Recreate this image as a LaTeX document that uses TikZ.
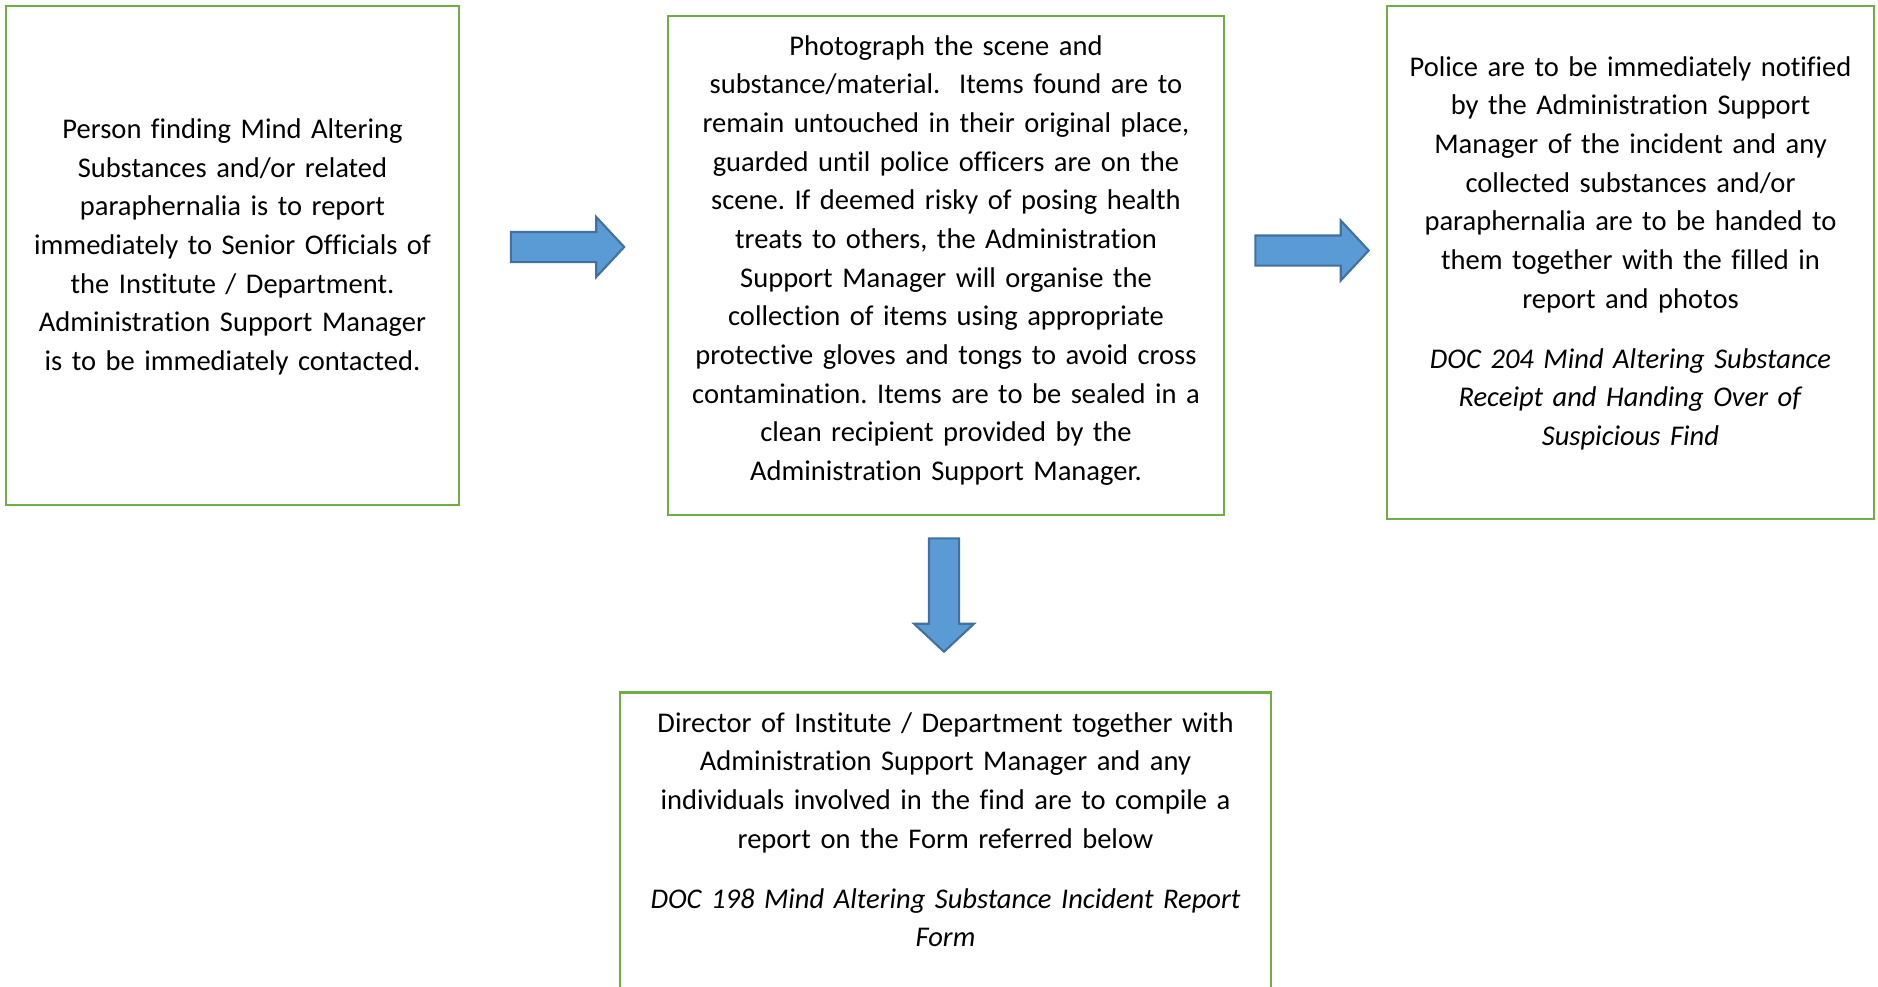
\documentclass[tikz,border=0pt]{standalone}
\usepackage{fontspec}
\setmainfont{Carlito}[Ligatures=NoCommon]
\usetikzlibrary{shapes.arrows}
\definecolor{boxgreen}{HTML}{70AD47}
\definecolor{arrowblue}{HTML}{5B9BD5}
\definecolor{arrowedge}{HTML}{41719C}
\newcommand{\gapbelow}[1]{\rule[-#1]{0pt}{0pt}}
\frenchspacing

\begin{document}
\begin{tikzpicture}
 [x=0.375pt,y=-0.375pt,
  box/.style={draw=boxgreen,line width=1pt,inner xsep=0pt,inner ysep=0pt,align=center,
    font=\fontsize{10.7pt}{14.5pt}\selectfont},
  blockarrow/.style={single arrow,draw=arrowedge,fill=arrowblue,line width=0.8pt,
    inner xsep=0pt,inner ysep=5.25pt,minimum height=42.5pt,minimum width=21.75pt,
    single arrow head extend=5.6pt,single arrow tip angle=94}]
  \useasboundingbox (0,0) rectangle (1878,986);
  \clip (0,0) rectangle (1878,986);

  \node (find)[box,text width=169.9pt,minimum height=187.1pt] at (232.5,255.5)
    {Person finding Mind Altering\\
     Substances and/or related\\
     paraphernalia is to report\\
     immediately to Senior Officials of\\
     the Institute / Department.\\
     Administration Support Manager\\
     is to be immediately contacted.\gapbelow{8.3pt}};
  \node (scene)[box,text width=208.5pt,minimum height=187.1pt] at (946,265.5)
    {Photograph the scene and\\
     substance/material.\ \ Items found are to\\
     remain untouched in their original place,\\
     guarded until police officers are on the\\
     scene. If deemed risky of posing health\\
     treats to others, the Administration\\
     Support Manager will organise the\\
     collection of items using appropriate\\
     protective gloves and tongs to avoid cross\\
     contamination. Items are to be sealed in a\\
     clean recipient provided by the\\
     Administration Support Manager.\gapbelow{5.8pt}};
  \node (police)[box,text width=182.6pt,minimum height=192.4pt] at (1630.5,262.5)
    {Police are to be immediately notified\\
     by the Administration Support\\
     Manager of the incident and any\\
     collected substances and/or\\
     paraphernalia are to be handed to\\
     them together with the filled in\\
     report and photos\\[8pt]
     \textit{DOC 204 Mind Altering Substance}\\
     \textit{Receipt and Handing Over of}\\
     \textit{Suspicious Find}\gapbelow{8.8pt}};
  \node (report)[box,text width=244.1pt,inner ysep=7.5pt,anchor=north] at (945.5,691)
    {Director of Institute / Department together with\\
     Administration Support Manager and any\\
     individuals involved in the find are to compile a\\
     report on the Form referred below\\[8pt]
     \textit{DOC 198 Mind Altering Substance Incident Report}\\
     \textit{Form}\gapbelow{40pt}};

  % block arrows between the steps
  \node (toscene)[blockarrow] at (560.5,247) {};
  \node (topolice)[blockarrow] at (1305,250.5) {};
  \node (toreport)[blockarrow,rotate=-90] at (944,588) {};
\end{tikzpicture}
\end{document}
